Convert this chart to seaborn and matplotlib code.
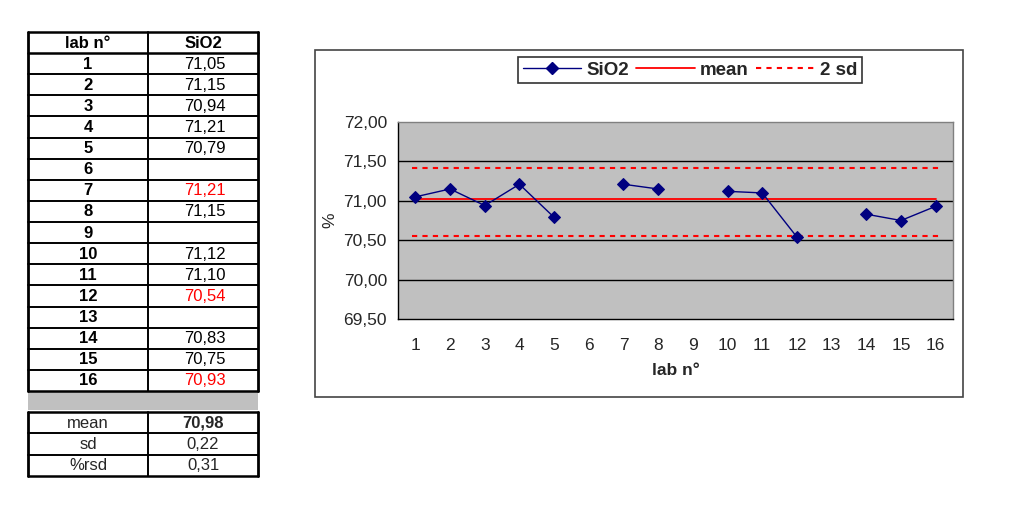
import numpy as np
import pandas as pd
import matplotlib
matplotlib.use("Agg")
import matplotlib.pyplot as plt
from matplotlib.lines import Line2D
from matplotlib.patches import Rectangle
from matplotlib.ticker import FuncFormatter, FixedLocator
import seaborn as sns

# ---- data ----
labs = list(range(1, 17))
sio2 = [71.05, 71.15, 70.94, 71.21, 70.79, np.nan, 71.21, 71.15, np.nan,
        71.12, 71.10, 70.54, np.nan, 70.83, 70.75, 70.93]
red_labs = [7, 12, 16]
chart_mean = 71.02
sd_upper = 71.42
sd_lower = 70.55
stat_names = ["mean", "sd", "%rsd"]
stat_values = ["70,98", "0,22", "0,31"]
y_ticks = [69.5, 70.0, 70.5, 71.0, 71.5, 72.0]

sns.set_style("white")
plt.rcParams["font.family"] = ["Liberation Sans", "DejaVu Sans"]

fig = plt.figure(figsize=(10.24, 5.32), dpi=100)
W, H = 1024, 532

# overlay for table and chart box
ov = fig.add_axes([0, 0, 1, 1])
ov.set_xlim(0, W)
ov.set_ylim(H, 0)
ov.axis("off")

FS = 12
# ---- table ----
x0, xm, x1 = 28, 148, 258
top = 32
rh = (391 - 32) / 17.0
rows = ["lab n°"] + [str(l) for l in labs]
vals = ["SiO2"] + [("" if np.isnan(v) else f"{v:.2f}".replace(".", ",")) for v in sio2]
for i, (r, v) in enumerate(zip(rows, vals)):
    yc = top + rh * (i + 0.5) + 0.5
    ov.text((x0 + xm) / 2, yc, r, ha="center", va="center", fontsize=FS,
            fontweight="bold", color="black")
    col = "black"
    if i > 0 and labs[i - 1] in red_labs:
        col = "#FF0000"
    ov.text((xm + x1) / 2 + (0 if i == 0 else 2), yc, v, ha="center", va="center",
            fontsize=FS, fontweight="bold" if i == 0 else "normal", color=col)
for i in range(18):
    y = top + rh * i
    ov.plot([x0, x1], [y, y], color="black", lw=1.8 if i in (0, 1, 17) else 1.4)
ov.plot([x0, x0], [top, 391], color="black", lw=2.0)
ov.plot([x1, x1], [top, 391], color="black", lw=2.0)
ov.plot([xm, xm], [top, 391], color="black", lw=1.4)
# gray band
ov.add_patch(Rectangle((x0, 392), x1 - x0, 18, facecolor="#C0C0C0", edgecolor="none"))
# stats
st = 412
sh = (476 - 412) / 3.0
for i, (n, v) in enumerate(zip(stat_names, stat_values)):
    yc = st + sh * (i + 0.5) + 0.5
    ov.text((x0 + xm) / 2, yc, n, ha="center", va="center", fontsize=FS)
    ov.text((xm + x1) / 2, yc, v, ha="center", va="center", fontsize=FS,
            fontweight="bold" if i == 0 else "normal")
for i in range(4):
    y = st + sh * i
    ov.plot([x0, x1], [y, y], color="black", lw=1.8 if i in (0, 3) else 1.4)
ov.plot([x0, x0], [st, 476], color="black", lw=2.0)
ov.plot([x1, x1], [st, 476], color="black", lw=2.0)
ov.plot([xm, xm], [st, 476], color="black", lw=1.4)

# chart box
ov.add_patch(Rectangle((315, 50), 963 - 315, 397 - 50, facecolor="white",
                       edgecolor="#444444", lw=1.2, zorder=0))

# ---- chart ----
ax = fig.add_axes([398 / W, 1 - 319 / H, 555 / W, 197 / H])
ax.set_facecolor("#C0C0C0")
df = pd.DataFrame({"lab": labs, "SiO2": sio2})
df["seg"] = np.cumsum(df["SiO2"].isna())
d = df.dropna()
for yv in y_ticks[1:-1]:
    ax.axhline(yv, color="black", lw=1.0, zorder=1)
ax.plot([0.9, 16.1], [sd_upper, sd_upper], color="#FF0000", lw=1.5,
        ls=(0, (2.5, 2.5)), zorder=2)
ax.plot([0.9, 16.1], [sd_lower, sd_lower], color="#FF0000", lw=1.5,
        ls=(0, (2.5, 2.5)), zorder=2)
ax.plot([1, 16], [chart_mean, chart_mean], color="#FF0000", lw=1.3, zorder=2)
sns.lineplot(data=d, x="lab", y="SiO2", units="seg", estimator=None,
             color="#000080", lw=1.0, marker="D", markersize=6,
             markeredgecolor="#000080", ax=ax, zorder=3, legend=False)
ax.set_xlim(0.5, 16.5)
ax.set_ylim(69.5, 72.0)
ax.yaxis.set_major_locator(FixedLocator(y_ticks))
ax.yaxis.set_major_formatter(FuncFormatter(lambda v, p: f"{v:.2f}".replace(".", ",")))
ax.set_xticks(labs)
ax.set_xticklabels([str(l) for l in labs], fontsize=12.5)
ax.set_xticks(np.arange(0.5, 17, 1), minor=True)
ax.tick_params(axis="x", which="major", length=0, pad=14)
ax.tick_params(axis="x", which="minor", length=5, direction="out", color="black", width=1)
ax.tick_params(axis="y", length=5, direction="out", color="black", labelsize=12.5, width=1, pad=3)
ax.set_xlabel("lab n°", fontsize=12.5, fontweight="bold", labelpad=7)
ax.set_ylabel("%", fontsize=12.5, labelpad=4)
for s in ["left", "bottom"]:
    ax.spines[s].set_color("black")
    ax.spines[s].set_linewidth(1.0)
for s in ["top", "right"]:
    ax.spines[s].set_color("#808080")
    ax.spines[s].set_linewidth(1.0)

handles = [
    Line2D([], [], color="#000080", lw=1.0, marker="D", markersize=6),
    Line2D([], [], color="#FF0000", lw=1.3),
    Line2D([], [], color="#FF0000", lw=1.5, ls=(0, (2.5, 2.5))),
]
leg = fig.legend(handles, ["SiO2", "mean", "2 sd"], ncol=3,
                 loc="center", bbox_to_anchor=(690 / W, 1 - 70 / H),
                 frameon=True, fancybox=False, edgecolor="black",
                 prop={"weight": "bold", "size": 13.5}, handlelength=3.1,
                 columnspacing=0.4, handletextpad=0.3, borderpad=0.25)
leg.get_frame().set_linewidth(1.2)

fig.savefig("out.png", dpi=100)
